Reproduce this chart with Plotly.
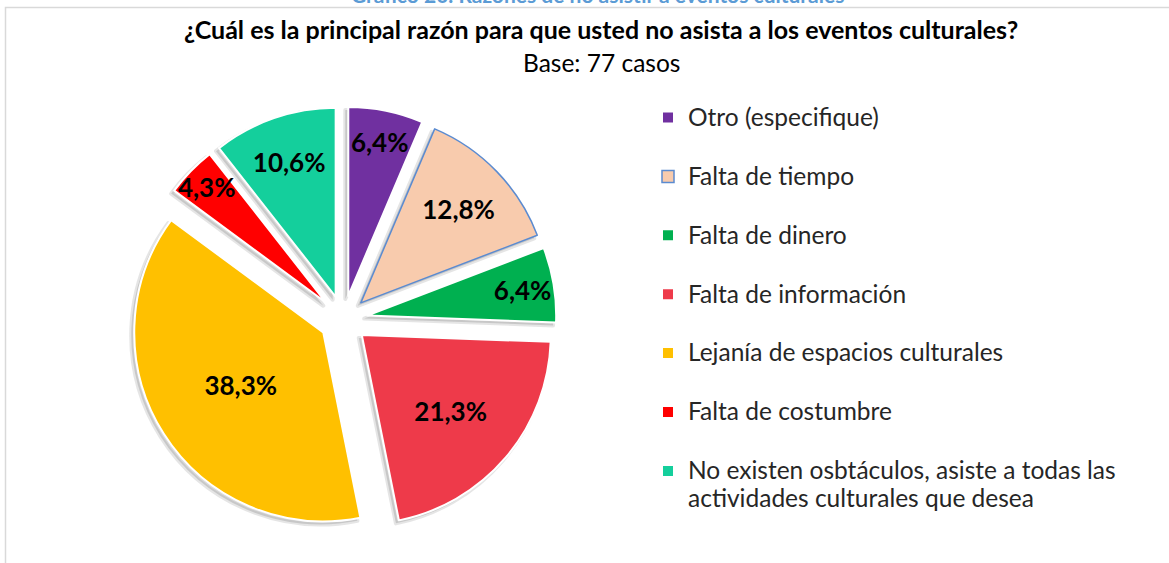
import plotly.graph_objects as go

# ---- data ----
categories = [
    "Otro (especifique)",
    "Falta de tiempo",
    "Falta de dinero",
    "Falta de información",
    "Lejanía de espacios culturales",
    "Falta de costumbre",
    "No existen osbtáculos, asiste a todas las<br>actividades culturales que desea",
]
values = [6.4, 12.8, 6.4, 21.3, 38.3, 4.3, 10.6]
colors = ["#7030A0", "#F8CBAD", "#00B050", "#EE3A4A", "#FFC000", "#FF0000", "#14CF9C"]
line_colors = ["#FFFFFF", "#5B8BD0", "#FFFFFF", "#FFFFFF", "#FFFFFF", "#FFFFFF", "#FFFFFF"]
line_widths = [2, 1.5, 2, 2, 2, 2, 2]

title_text = "¿Cuál es la principal razón para que usted no asista a los eventos culturales?"
subtitle_text = "Base: 77 casos"
top_caption = "Gráfico 20. Razones de no asistir a eventos culturales"

W, H = 1169, 563
FONT = "Lato"

text_labels = [f"{v:.1f}".replace(".", ",") + "%" for v in values]
legend_labels = [
    '<span style="font-size:24.5px">' + c.replace("<br>", '</span><br><span style="font-size:24.5px">') + "</span>"
    + ("" if "<br>" in c else "<br>\u00a0")
    for c in categories
]

# pie geometry (pixels)
cx, cy, ext = 343.5, 319.5, 213
pull = 0.127


def dom(dx=0, dy=0):
    return dict(
        x=[(cx - ext + dx) / W, (cx + ext + dx) / W],
        y=[1 - (cy + ext + dy) / H, 1 - (cy - ext + dy) / H],
    )


fig = go.Figure()

# soft shadow
fig.add_trace(go.Pie(
    labels=legend_labels, values=values, sort=False, direction="clockwise", rotation=0,
    pull=[pull] * len(values), domain=dom(-3, 3),
    marker=dict(colors=["rgba(110,110,110,0.25)"] * len(values),
                line=dict(color="rgba(110,110,110,0.18)", width=4)),
    textinfo="none", hoverinfo="skip", showlegend=False,
))

fig.add_trace(go.Pie(
    labels=legend_labels, values=values, sort=False, direction="clockwise", rotation=0,
    pull=[pull] * len(values), domain=dom(),
    marker=dict(colors=colors, line=dict(color=line_colors, width=line_widths)),
    text=text_labels, texttemplate="%{text}", textposition="inside",
    insidetextorientation="horizontal",
    textfont=dict(family=FONT, size=26, color="black", weight="bold"),
    hovertemplate="%{text}<extra></extra>",
))

fig.update_layout(
    width=W, height=H,
    margin=dict(l=0, r=0, t=0, b=0),
    paper_bgcolor="white", plot_bgcolor="white",
    uniformtext=dict(minsize=26, mode="show"),
    legend=dict(
        x=648 / W, y=1 - 97 / H, xanchor="left", yanchor="top",
        font=dict(family=FONT, size=21.5, color="#262626"),
        valign="top", traceorder="normal", bgcolor="rgba(0,0,0,0)",
    ),
    shapes=[dict(type="rect", xref="paper", yref="paper",
                 x0=5.5 / W, x1=1.02, y0=-0.02, y1=1 - 7.5 / H,
                 line=dict(color="#D9D9D9", width=1.5), layer="below")],
    annotations=[
        dict(text=top_caption, x=597 / W, y=1 + 5 / H, xref="paper", yref="paper",
             xanchor="center", yanchor="middle", showarrow=False,
             font=dict(family=FONT, size=21, color="#5B9BD5", weight="bold")),
        dict(text="<b>" + title_text + "</b>", x=601 / W, y=1 - 29 / H, xref="paper", yref="paper",
             xanchor="center", yanchor="middle", showarrow=False,
             font=dict(family=FONT, size=25, color="black")),
        dict(text=subtitle_text, x=601 / W, y=1 - 62 / H, xref="paper", yref="paper",
             xanchor="center", yanchor="middle", showarrow=False,
             font=dict(family=FONT, size=24.5, color="black")),
    ],
)

# remove the browser's default 8px page margin so the figure fills the window exactly
fig.write_html("out.html", config={"displayModeBar": False},
               post_script="document.body.style.margin='0';")
